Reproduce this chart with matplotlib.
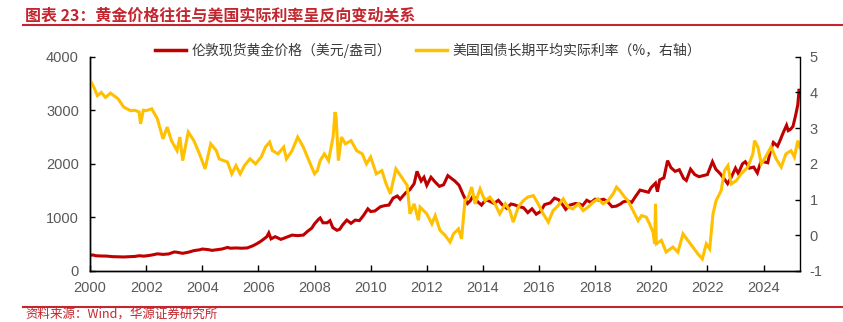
import matplotlib
matplotlib.use('Agg')
import matplotlib.pyplot as plt
from matplotlib.lines import Line2D

plt.rcParams['font.family'] = ['Liberation Sans', 'Noto Sans CJK SC', 'DejaVu Sans']
plt.rcParams['axes.unicode_minus'] = False

# 伦敦现货黄金价格（美元/盎司），按年份小数读取
gold_t = [2000.0, 2000.1, 2000.2, 2000.4, 2000.6, 2000.8, 2001.0, 2001.2, 2001.4, 2001.6,
          2001.75, 2001.9, 2002.0, 2002.2, 2002.4, 2002.6, 2002.8, 2003.0, 2003.1, 2003.3,
          2003.5, 2003.7, 2003.9, 2004.0, 2004.2, 2004.35, 2004.5, 2004.7, 2004.9, 2005.0,
          2005.2, 2005.4, 2005.6, 2005.8, 2005.95, 2006.1, 2006.3, 2006.37, 2006.45, 2006.6,
          2006.8, 2007.0, 2007.2, 2007.4, 2007.6, 2007.75, 2007.9, 2008.0, 2008.15, 2008.2,
          2008.3, 2008.45, 2008.55, 2008.65, 2008.8, 2008.9, 2009.0, 2009.15, 2009.3, 2009.45,
          2009.6, 2009.75, 2009.9, 2010.0, 2010.15, 2010.35, 2010.5, 2010.65, 2010.8, 2010.95,
          2011.05, 2011.25, 2011.4, 2011.55, 2011.65, 2011.7, 2011.8, 2011.9, 2012.0, 2012.15,
          2012.3, 2012.45, 2012.6, 2012.75, 2012.9, 2013.0, 2013.15, 2013.3, 2013.45, 2013.55,
          2013.65, 2013.8, 2013.95, 2014.1, 2014.25, 2014.4, 2014.55, 2014.7, 2014.85, 2015.0,
          2015.1, 2015.3, 2015.45, 2015.6, 2015.75, 2015.9, 2016.05, 2016.2, 2016.4, 2016.55,
          2016.7, 2016.85, 2016.95, 2017.1, 2017.3, 2017.45, 2017.55, 2017.7, 2017.85, 2018.0,
          2018.15, 2018.3, 2018.45, 2018.6, 2018.75, 2018.9, 2019.0, 2019.15, 2019.3, 2019.45,
          2019.6, 2019.75, 2019.9, 2020.0, 2020.15, 2020.22, 2020.3, 2020.45, 2020.58, 2020.7,
          2020.85, 2021.0, 2021.15, 2021.25, 2021.4, 2021.55, 2021.7, 2021.85, 2022.0, 2022.18,
          2022.3, 2022.45, 2022.6, 2022.72, 2022.85, 2023.0, 2023.1, 2023.25, 2023.35, 2023.5,
          2023.65, 2023.78, 2023.9, 2024.0, 2024.15, 2024.25, 2024.35, 2024.5, 2024.6, 2024.7,
          2024.82, 2024.88, 2024.95, 2025.05, 2025.15, 2025.22, 2025.27, 2025.3]
gold_v = [290, 300, 285, 280, 278, 268, 265, 262, 268, 272,
          285, 278, 282, 298, 320, 310, 318, 355, 350, 330,
          350, 380, 395, 410, 400, 385, 395, 410, 440, 425,
          430, 425, 430, 470, 510, 560, 640, 710, 600, 640,
          590, 630, 670, 660, 670, 740, 800, 880, 970, 990,
          900, 900, 940, 810, 760, 780, 860, 950, 890, 950,
          940, 1040, 1160, 1110, 1120, 1200, 1220, 1230, 1360, 1400,
          1340, 1460, 1520, 1630, 1860, 1800, 1680, 1750, 1600, 1750,
          1660, 1580, 1610, 1780, 1720, 1680, 1600, 1420, 1260, 1310,
          1400, 1300, 1230, 1330, 1300, 1260, 1320, 1230, 1170, 1250,
          1240, 1200, 1180, 1090, 1160, 1060, 1110, 1240, 1270, 1360,
          1330, 1230, 1150, 1230, 1260, 1250, 1220, 1320, 1280, 1340,
          1320, 1340, 1290, 1200, 1210, 1250, 1290, 1310, 1280, 1400,
          1510, 1490, 1470, 1560, 1640, 1480, 1700, 1740, 2060, 1930,
          1860, 1890, 1730, 1690, 1900, 1800, 1760, 1780, 1800, 2040,
          1900, 1820, 1720, 1630, 1750, 1920, 1820, 2000, 2040, 1920,
          1940, 1830, 2030, 2040, 2020, 2250, 2400, 2330, 2450, 2580,
          2720, 2620, 2640, 2700, 2920, 3100, 3400, 3300]

# 美国国债长期平均实际利率（%）
rate_t = [2000.0, 2000.14, 2000.26, 2000.4, 2000.55, 2000.73, 2001.0, 2001.2, 2001.44, 2001.6,
          2001.75, 2001.8, 2001.9, 2002.0, 2002.2, 2002.4, 2002.6, 2002.75, 2002.9, 2003.1,
          2003.2, 2003.3, 2003.5, 2003.7, 2003.9, 2004.1, 2004.3, 2004.5, 2004.6, 2004.9,
          2005.05, 2005.2, 2005.35, 2005.5, 2005.7, 2005.9, 2006.1, 2006.25, 2006.4, 2006.5,
          2006.7, 2006.9, 2007.0, 2007.2, 2007.4, 2007.6, 2007.8, 2008.0, 2008.1, 2008.2,
          2008.35, 2008.5, 2008.66, 2008.73, 2008.77, 2008.85, 2008.96, 2009.1, 2009.3, 2009.5,
          2009.7, 2009.85, 2010.0, 2010.2, 2010.4, 2010.55, 2010.7, 2010.9, 2011.1, 2011.3,
          2011.4, 2011.55, 2011.7, 2011.76, 2012.0, 2012.18, 2012.3, 2012.47, 2012.65, 2012.83,
          2012.95, 2013.13, 2013.24, 2013.36, 2013.48, 2013.6, 2013.72, 2013.9, 2014.07, 2014.25,
          2014.43, 2014.6, 2014.8, 2014.96, 2015.08, 2015.26, 2015.44, 2015.6, 2015.8, 2015.97,
          2016.15, 2016.33, 2016.5, 2016.68, 2016.86, 2017.04, 2017.2, 2017.4, 2017.57, 2017.75,
          2017.93, 2018.1, 2018.28, 2018.46, 2018.64, 2018.76, 2018.88, 2019.05, 2019.17, 2019.35,
          2019.53, 2019.65, 2019.82, 2019.94, 2020.06, 2020.12, 2020.15, 2020.18, 2020.36, 2020.53,
          2020.77, 2020.95, 2021.13, 2021.3, 2021.48, 2021.66, 2021.82, 2021.96, 2022.08, 2022.2,
          2022.31, 2022.49, 2022.61, 2022.73, 2022.85, 2023.03, 2023.2, 2023.44, 2023.62, 2023.68,
          2023.8, 2023.92, 2024.1, 2024.27, 2024.45, 2024.63, 2024.8, 2024.98, 2025.1, 2025.22,
          2025.3]
rate_v = [4.35, 4.14, 3.91, 4.0, 3.86, 3.98, 3.82, 3.59, 3.49, 3.5,
          3.45, 3.12, 3.5, 3.49, 3.54, 3.26, 2.7, 3.03, 2.65, 2.37,
          2.75, 2.09, 2.89, 2.65, 2.28, 1.86, 2.56, 2.37, 2.14, 2.05,
          1.72, 1.95, 1.72, 1.95, 2.14, 2.0, 2.19, 2.47, 2.61, 2.37,
          2.28, 2.47, 2.14, 2.37, 2.75, 2.47, 2.09, 1.72, 1.81, 2.09,
          2.28, 2.09, 2.75, 3.45, 3.3, 2.09, 2.75, 2.56, 2.65, 2.37,
          2.28, 2.0, 2.19, 1.72, 1.81, 1.44, 1.16, 1.86, 1.63, 1.4,
          0.6, 0.88, 0.42, 0.79, 0.6, 0.32, 0.55, 0.14, 0.0, -0.19,
          0.04, 0.18, -0.1, 0.97, 1.07, 1.35, 0.88, 1.3, 0.97, 1.07,
          0.88, 0.6, 0.88, 0.69, 0.37, 0.79, 0.97, 1.07, 1.11, 0.88,
          0.6, 0.37, 0.69, 0.83, 1.02, 0.79, 0.74, 0.88, 0.69, 0.79,
          0.93, 1.02, 0.88, 0.97, 1.16, 1.35, 1.25, 1.07, 0.97, 0.69,
          0.41, 0.55, 0.51, 0.32, 0.09, -0.24, 0.88, -0.24, -0.14, -0.47,
          -0.33, -0.47, 0.04, -0.14, -0.33, -0.52, -0.66, -0.24, -0.38, 0.6,
          0.97, 1.25, 1.81, 1.95, 1.44, 1.53, 1.72, 1.91, 2.28, 2.65,
          2.47, 2.0, 2.23, 2.47, 2.14, 1.91, 2.28, 2.37, 2.19, 2.65,
          2.45]

years = list(range(2000, 2026, 2))
gold_ticks = [0, 1000, 2000, 3000, 4000]
rate_ticks = [-1, 0, 1, 2, 3, 4, 5]

title = '图表 23：黄金价格往往与美国实际利率呈反向变动关系'
source = '资料来源：Wind，华源证券研究所'
gold_name = '伦敦现货黄金价格（美元/盎司）'
rate_name = '美国国债长期平均实际利率（%，右轴）'

red = '#C00000'
yellow = '#FFC000'
deco = '#C3262E'
grey = '#595959'

fig = plt.figure(figsize=(8.43, 3.22), dpi=100)
ax = fig.add_axes([0.1068, 0.1584, 0.8422, 0.6655])
ax2 = ax.twinx()

ax.plot(gold_t, gold_v, color=red, lw=2.2, solid_joinstyle='miter')
ax2.plot(rate_t, rate_v, color=yellow, lw=2.2, solid_joinstyle='miter')

ax.set_xlim(2000, 2025.3)
ax.set_ylim(0, 4000)
ax2.set_ylim(-1, 5)
ax.set_xticks(years)
ax.set_yticks(gold_ticks)
ax2.set_yticks(rate_ticks)

for a in (ax, ax2):
    a.spines['top'].set_visible(False)
    for s in ('left', 'right', 'bottom'):
        a.spines[s].set_color('black')
        a.spines[s].set_linewidth(1.0)
ax.spines['right'].set_visible(False)

ax.tick_params(axis='x', direction='in', length=4.5, width=1, pad=7,
               labelsize=10.5, labelcolor=grey)
ax.tick_params(axis='y', direction='in', length=3.5, width=1, pad=8,
               labelsize=10.5, labelcolor=grey)
ax2.tick_params(axis='y', direction='in', length=3.5, width=1, pad=7,
                labelsize=10.5, labelcolor=grey)

handles = [Line2D([], [], color=red, lw=2.5), Line2D([], [], color=yellow, lw=2.5)]
fig.legend(handles, [gold_name, rate_name], loc='center', bbox_to_anchor=(0.508, 0.845),
           ncol=2, frameon=False, handlelength=2.2, handletextpad=0.4, columnspacing=1.8,
           prop={'family': ['Noto Sans CJK SC', 'DejaVu Sans'], 'size': 10},
           labelcolor='#3A3A3A')

# 标题、分隔线与资料来源
fig.text(0.03, 1 - 15 / 322, title, color=deco, fontsize=11.5, fontweight='bold',
         va='center', ha='left', family=['Noto Sans CJK SC', 'DejaVu Sans'])
fig.add_artist(Line2D([0.027, 1.0], [1 - 25 / 322] * 2, color=deco, lw=1.5))
fig.add_artist(Line2D([0.027, 1.0], [1 - 307 / 322] * 2, color=deco, lw=1.5))
fig.text(0.03, 1 - 321 / 322, source, color=deco, fontsize=9,
         va='bottom', ha='left', family=['Noto Sans CJK SC', 'DejaVu Sans'])

fig.savefig('out.png', dpi=100)
